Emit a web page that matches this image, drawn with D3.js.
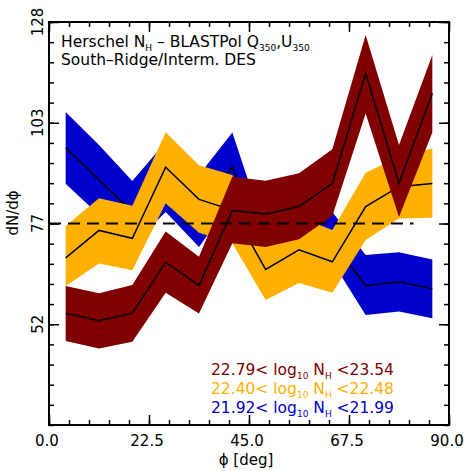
<!DOCTYPE html>
<html>
<head>
<meta charset="utf-8">
<script src="https://cdn.jsdelivr.net/npm/d3@7"></script>
<style>
  body { margin: 0; background: #fff; }
  text { font-family: "DejaVu Sans", sans-serif; }
</style>
</head>
<body>
<svg id="chart" width="471" height="471"></svg>
<script>
// bin centres (deg)
var phi = [3.75, 11.25, 18.75, 26.25, 33.75, 41.25, 48.75, 56.25, 63.75, 71.25, 78.75, 86.25];

// 22.79 < log NH < 23.54
var highMid = [54.8, 52.9, 54.8, 67.6, 61.8, 80.6, 79.7, 81.6, 87.4, 115.1, 87.4, 110.1];
var highLo  = [47.8, 45.9, 47.6, 59.9, 54.7, 72.4, 71.4, 73.4, 79.2, 105.0, 79.0, 100.2];
var highHi  = [61.6, 59.8, 61.9, 75.3, 69.0, 89.1, 88.1, 90.0, 96.0, 124.7, 97.1, 119.7];

// 22.40 < log NH < 22.48
var midMid = [68.7, 75.6, 73.6, 91.5, 83.4, 80.7, 65.8, 70.7, 67.7, 81.6, 86.6, 87.4];
var midLo  = [61.6, 67.3, 65.6, 82.4, 75.0, 72.4, 58.1, 62.4, 59.9, 73.2, 78.6, 78.8];
var midHi  = [76.7, 83.7, 81.8, 100.3, 92.0, 89.5, 74.0, 79.0, 75.7, 90.1, 94.1, 96.2];

// 21.92 < log NH < 21.99
var lowMid = [96.4, 88.3, 80.2, 89.0, 80.5, 91.6, 70.6, 71.9, 72.7, 61.7, 62.7, 60.9];
var lowLo  = [87.3, 79.5, 71.9, 80.2, 71.4, 83.2, 62.5, 65.1, 67.7, 54.3, 55.2, 53.5];
var lowHi  = [105.4, 97.1, 88.0, 97.8, 89.5, 100.2, 74.9, 78.2, 80.2, 69.4, 70.1, 68.3];

var meanLevel = 77.33;
var meanExtent = [0, 82];

var xTicks = [0, 22.5, 45, 67.5, 90];
var xTickLabels = ["0.0", "22.5", "45.0", "67.5", "90.0"];
var yTicks = [52, 77.33, 102.67, 128];
var yTickLabels = ["52", "77", "103", "128"];

var legendLo = ["22.79", "22.40", "21.92"];
var legendHi = ["23.54", "22.48", "21.99"];
var colors = ["#800000", "#ffb000", "#0000cc"];

var svg = d3.select("#chart");
var pl = 49, pr = 449, pt = 22, pb = 425;

var x = d3.scaleLinear().domain([0, 90]).range([pl, pr]);
var y = d3.scaleLinear().domain([26.67, 128]).range([pb, pt]);

var series = [
  {mid: lowMid, lo: lowLo, hi: lowHi, color: colors[2]},
  {mid: midMid, lo: midLo, hi: midHi, color: colors[1]},
  {mid: highMid, lo: highLo, hi: highHi, color: colors[0]}
];

var area = d3.area()
  .x(function(d) { return x(d.p); })
  .y0(function(d) { return y(d.lo); })
  .y1(function(d) { return y(d.hi); });
var line = d3.line()
  .x(function(d) { return x(d.p); })
  .y(function(d) { return y(d.v); });

series.forEach(function(s) {
  var pts = phi.map(function(p, i) { return {p: p, lo: s.lo[i], hi: s.hi[i], v: s.mid[i]}; });
  svg.append("path").attr("d", area(pts)).attr("fill", s.color);
  svg.append("path").attr("d", line(pts)).attr("fill", "none")
    .attr("stroke", "black").attr("stroke-width", 1.5);
});

// mean level
svg.append("line")
  .attr("x1", x(meanExtent[0])).attr("x2", x(meanExtent[1]))
  .attr("y1", y(meanLevel)).attr("y2", y(meanLevel))
  .attr("stroke", "black").attr("stroke-width", 1.8)
  .attr("stroke-dasharray", "12,7");

// axes with inward ticks
function minorVals(a, b, step) {
  var out = [];
  for (var v = a; v <= b + 1e-6; v += step) out.push(v);
  return out;
}
var xMinor = minorVals(0, 90, 4.5);
var yMinor = minorVals(26.67, 128, 101.33 / 20);

function addAxis(gen, tr, vals, size) {
  svg.append("g").attr("transform", tr)
    .call(gen.tickValues(vals).tickSize(size).tickFormat(""))
    .call(function(g) {
      g.select(".domain").remove();
      g.selectAll("line").attr("stroke", "black").attr("stroke-width", 1.5);
    });
}
addAxis(d3.axisBottom(x), "translate(0," + pb + ")", xMinor, -5);
addAxis(d3.axisBottom(x), "translate(0," + pb + ")", xTicks, -10);
addAxis(d3.axisTop(x), "translate(0," + pt + ")", xMinor, -5);
addAxis(d3.axisTop(x), "translate(0," + pt + ")", xTicks, -10);
addAxis(d3.axisLeft(y), "translate(" + pl + ",0)", yMinor, -5);
addAxis(d3.axisLeft(y), "translate(" + pl + ",0)", yTicks, -10);
addAxis(d3.axisRight(y), "translate(" + pr + ",0)", yMinor, -5);
addAxis(d3.axisRight(y), "translate(" + pr + ",0)", yTicks, -10);

svg.append("rect").attr("x", pl).attr("y", pt)
  .attr("width", pr - pl).attr("height", pb - pt)
  .attr("fill", "none").attr("stroke", "black").attr("stroke-width", 2);

// tick labels
xTicks.forEach(function(v, i) {
  svg.append("text").attr("x", x(v) - 2).attr("y", 446)
    .attr("text-anchor", "middle").style("font-size", "15px")
    .text(xTickLabels[i]);
});
yTicks.forEach(function(v, i) {
  svg.append("text")
    .attr("transform", "translate(43," + y(v) + ")rotate(-90)")
    .attr("text-anchor", "middle").style("font-size", "15px")
    .text(yTickLabels[i]);
});

// axis titles
svg.append("text").attr("x", 246).attr("y", 465)
  .attr("text-anchor", "middle").style("font-size", "15px")
  .text("\u03d5 [deg]");
svg.append("text")
  .attr("transform", "translate(18,213)rotate(-90)")
  .attr("text-anchor", "middle").style("font-size", "15px")
  .text("dN/d\u03d5");

// title lines
var t1 = svg.append("text").attr("x", 61).attr("y", 47).style("font-size", "15.5px");
t1.append("tspan").text("Herschel N");
t1.append("tspan").attr("dy", 4).style("font-size", "9px").text("H");
t1.append("tspan").attr("dy", -4).text(" \u2013 BLASTPol Q");
t1.append("tspan").attr("dy", 4).style("font-size", "9px").text("350");
t1.append("tspan").attr("dy", -4).text(",U");
t1.append("tspan").attr("dy", 4).style("font-size", "9px").text("350");

svg.append("text").attr("x", 61).attr("y", 65).style("font-size", "15.5px")
  .text("South\u2013Ridge/Interm. DES");

// legend
legendLo.forEach(function(lo, i) {
  var t = svg.append("text").attr("x", 211).attr("y", 375 + i * 19)
    .style("font-size", "15.5px").attr("fill", colors[i]);
  t.append("tspan").text(lo + "<  log");
  t.append("tspan").attr("dy", 4).style("font-size", "9px").text("10");
  t.append("tspan").attr("dy", -4).text(" N");
  t.append("tspan").attr("dy", 4).style("font-size", "9px").text("H");
  t.append("tspan").attr("dy", -4).text("  <" + legendHi[i]);
});
</script>
</body>
</html>
